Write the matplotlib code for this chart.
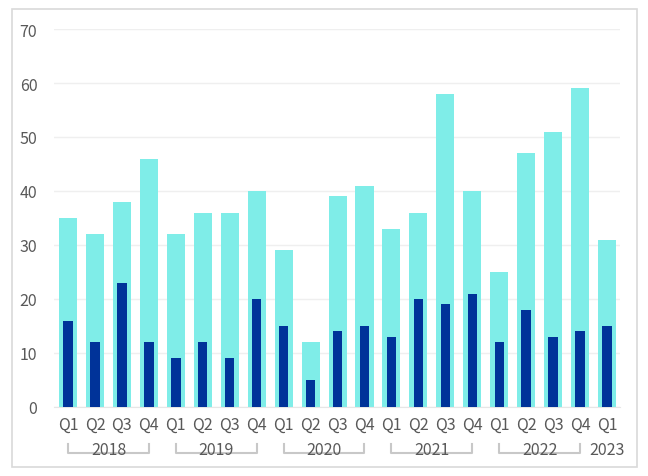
#!/usr/bin/env python3
"""Quarterly totals with highlighted subset, 2018 Q1 - 2023 Q1."""
import matplotlib
matplotlib.use('Agg')
import matplotlib.pyplot as plt
from matplotlib.patches import Rectangle

quarters = ['Q1', 'Q2', 'Q3', 'Q4'] * 5 + ['Q1']
years = ['2018', '2019', '2020', '2021', '2022', '2023']
total = [35, 32, 38, 46, 32, 36, 36, 40, 29, 12, 39, 41, 33, 36, 58, 40, 25, 47, 51, 59, 31]
subset = [16, 12, 23, 12, 9, 12, 9, 20, 15, 5, 14, 15, 13, 20, 19, 21, 12, 18, 13, 14, 15]

COL = {'light': '#7FEDE8', 'dark': '#003399', 'text': '#595959', 'grid': '#EFEFEF', 'frame': '#D9D9D9', 'bracket': '#C8C8C8'}

plt.rcParams.update({'font.family': ['Noto Sans CJK JP', 'DejaVu Sans'], 'font.size': 11.5})
FS = 11.5

fig = plt.figure(figsize=(6.48, 4.77), dpi=100, facecolor='white')
fig.patches.append(Rectangle((12 / 648, 9 / 477), 625 / 648, 458 / 477, transform=fig.transFigure,
                             fill=False, edgecolor=COL['frame'], lw=1.2))
ax = fig.add_axes([54 / 648, 69 / 477, 566 / 648, 378 / 477])

x = list(range(len(total)))
ax.bar(x, total, width=0.67, color=COL['light'], zorder=2)
ax.bar(x, subset, width=0.35, color=COL['dark'], zorder=3)

ax.set_xlim(-0.52, 20.48)
ax.set_ylim(0, 70)
ax.set_yticks(range(0, 71, 10))
ax.grid(axis='y', color=COL['grid'], lw=1)
ax.set_axisbelow(True)
for s in ['top', 'right', 'left']:
    ax.spines[s].set_visible(False)
ax.spines['bottom'].set_color('#E6E6E6')
ax.tick_params(axis='both', length=0, colors=COL['text'], labelsize=FS)
ax.tick_params(axis='y', pad=12)
ax.tick_params(axis='x', pad=6)
ax.set_xticks(x, quarters)

# year labels with brackets under each group of four quarters
tr = ax.get_xaxis_transform()
for i, yr in enumerate(years):
    start = i * 4
    if yr == '2023':
        ax.text(start, -0.113, yr, transform=tr, ha='center', va='center', color=COL['text'], fontsize=FS)
        continue
    end = start + 3
    ax.plot([start, start, end, end], [-0.099, -0.122, -0.122, -0.099], transform=tr,
            color=COL['bracket'], lw=1.5, clip_on=False, zorder=1)
    ax.text((start + end) / 2, -0.113, yr, transform=tr, ha='center', va='center',
            color=COL['text'], fontsize=FS)

fig.savefig('out.png', dpi=100, facecolor='white')
